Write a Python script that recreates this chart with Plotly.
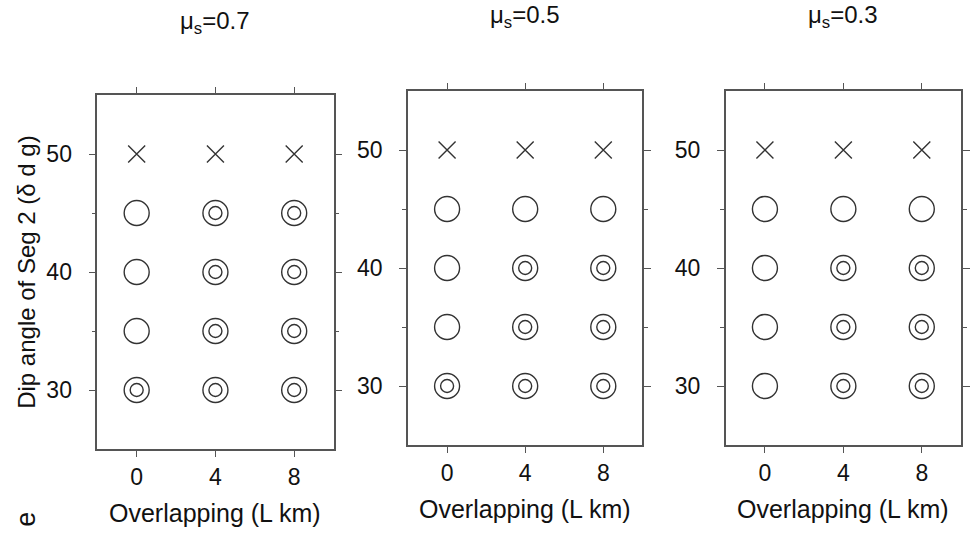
import plotly.graph_objects as go

# ---- data ----
overlaps = [0, 4, 8]
dips = [30, 35, 40, 45, 50]
panel_titles = ["μ<sub>s</sub>=0.7", "μ<sub>s</sub>=0.5", "μ<sub>s</sub>=0.3"]
# result codes per dip (rows, same order as dips) and overlap (columns)
res_07 = [["OO", "OO", "OO"],
          ["O", "OO", "OO"],
          ["O", "OO", "OO"],
          ["O", "OO", "OO"],
          ["X", "X", "X"]]
res_05 = [["OO", "OO", "OO"],
          ["O", "OO", "OO"],
          ["O", "OO", "OO"],
          ["O", "O", "O"],
          ["X", "X", "X"]]
res_03 = [["O", "OO", "OO"],
          ["O", "OO", "OO"],
          ["O", "OO", "OO"],
          ["O", "O", "O"],
          ["X", "X", "X"]]
results = [res_07, res_05, res_03]
x_ticks = [0, 4, 8]
y_ticks = [30, 40, 50]
x_title = "Overlapping (L km)"
y_title = "Dip angle of Seg 2 (δ d g)"

W, H = 970, 540
# panel pixel boxes (left, right, top, bottom)
boxes = [(98, 336, 95, 449), (411, 647, 91, 445), (731, 968, 91, 445)]
INK = "#333333"
AX = "#555555"
TXT = "#111111"
FONT = "Liberation Sans, Arial, Helvetica, sans-serif"

fig = go.Figure()
annotations = []

for i, (res, box) in enumerate(zip(results, boxes)):
    xa = "x" if i == 0 else f"x{i+1}"
    ya = "y" if i == 0 else f"y{i+1}"
    ox, oy, ix, iy, cx, cy = [], [], [], [], [], []
    for r, d in enumerate(dips):
        for c, L in enumerate(overlaps):
            code = res[r][c]
            if code == "X":
                cx.append(L); cy.append(d)
            else:
                ox.append(L); oy.append(d)
                if code == "OO":
                    ix.append(L); iy.append(d)
    common = dict(mode="markers", xaxis=xa, yaxis=ya, showlegend=False, hoverinfo="skip")
    fig.add_trace(go.Scatter(x=ox, y=oy, marker=dict(symbol="circle-open", size=25, color=INK,
                                                      line=dict(width=1.4, color=INK)), **common))
    fig.add_trace(go.Scatter(x=ix, y=iy, marker=dict(symbol="circle-open", size=13, color=INK,
                                                      line=dict(width=1.4, color=INK)), **common))
    fig.add_trace(go.Scatter(x=cx, y=cy, marker=dict(symbol="x-thin-open", size=17, color=INK,
                                                      line=dict(width=1.4, color=INK)), **common))

    l, r_, t, b = box
    xdom = [l / W, r_ / W]
    ydom = [1 - b / H, 1 - t / H]
    xkey = "xaxis" if i == 0 else f"xaxis{i+1}"
    ykey = "yaxis" if i == 0 else f"yaxis{i+1}"
    fig.layout[xkey] = dict(domain=xdom, range=[-2, 10], tickvals=x_ticks, ticks="outside",
                            ticklen=6, tickwidth=1.3, tickcolor=AX, showline=True, linecolor=AX,
                            linewidth=1.5, mirror="ticks", showgrid=False, zeroline=False,
                            anchor=ya, fixedrange=True, ticklabelstandoff=1,
                            tickfont=dict(size=23, color=TXT, family=FONT))
    fig.layout[ykey] = dict(domain=ydom, range=[25, 55], tickvals=y_ticks, ticks="outside",
                            ticklen=7, tickwidth=1.3, tickcolor=AX, showline=True, linecolor=AX,
                            linewidth=1.5, mirror="ticks", showgrid=False, zeroline=False,
                            anchor=xa, fixedrange=True, ticklabelstandoff=12,
                            minor=dict(tickvals=[35, 45], ticks="outside", ticklen=4,
                                       tickwidth=1.2, tickcolor=AX, showgrid=False),
                            tickfont=dict(size=23, color=TXT, family=FONT))
    # panel title
    annotations.append(dict(text=panel_titles[i], x=(l + r_) / 2 / W,
                            y=1 - (22 if i == 0 else 17) / H, xref="paper", yref="paper",
                            showarrow=False, xanchor="center", yanchor="middle",
                            font=dict(size=24, color=TXT, family=FONT)))
    # x axis title
    annotations.append(dict(text=x_title, x=(l + r_) / 2 / W, y=1 - (b + 64) / H,
                            xref="paper", yref="paper", showarrow=False,
                            xanchor="center", yanchor="middle",
                            font=dict(size=25, color=TXT, family=FONT)))

annotations.append(dict(text=y_title, x=26 / W, y=1 - 272 / H, xref="paper", yref="paper",
                        showarrow=False, textangle=-90, xanchor="center", yanchor="middle",
                        font=dict(size=24, color=TXT, family=FONT)))
annotations.append(dict(text="e", x=26 / W, y=1 - 519 / H, xref="paper", yref="paper",
                        showarrow=False, textangle=-90, xanchor="center", yanchor="middle",
                        font=dict(size=27, color=TXT, family=FONT)))

fig.update_layout(width=W, height=H, margin=dict(l=0, r=0, t=0, b=0),
                  paper_bgcolor="white", plot_bgcolor="white",
                  annotations=annotations, font=dict(family=FONT))

fig.write_html("out.html")
